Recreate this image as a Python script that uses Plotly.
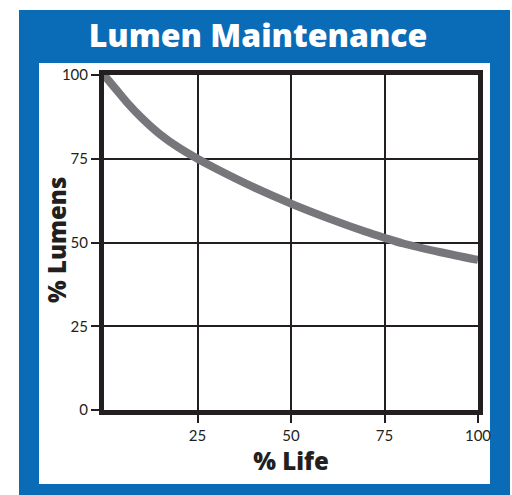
import plotly.graph_objects as go

life_pct = [0, 3, 6, 10, 15, 20, 25, 30, 40, 50, 60, 70, 75, 80, 90, 100]
lumens_pct = [100, 96, 92, 87.3, 82.3, 78.3, 75, 72, 66.5, 61.6, 57.2, 53.2, 51.4, 49.7, 47.1, 44.8]

x_ticks = [25, 50, 75, 100]
y_ticks = [0, 25, 50, 75, 100]

title_text = "Lumen Maintenance"
x_title = "% Life"
y_title = "% Lumens"

W, H = 512, 495
ML, MR, MT, MB = 104, 34, 75, 85
pw, ph = W - ML - MR, H - MT - MB

def px(p):
    return (p - ML) / pw

def py(p):
    return 1 - (p - MT) / ph

dark = "#231f20"
blue = "#0a6cb6"

fig = go.Figure()
fig.add_trace(go.Scatter(
    x=life_pct, y=lumens_pct, mode="lines",
    line=dict(color="#77777b", width=8, shape="spline", smoothing=0.8),
    hoverinfo="x+y", showlegend=False, cliponaxis=True,
))

fig.add_shape(type="rect", xref="paper", yref="paper", layer="below",
              x0=px(19), x1=px(510), y0=py(10), y1=py(497),
              fillcolor=blue, line=dict(width=0))
fig.add_shape(type="rect", xref="paper", yref="paper", layer="below",
              x0=px(39), x1=px(490), y0=py(63), y1=py(484),
              fillcolor="white", line=dict(width=0))

fig.add_annotation(text=y_title, xref="paper", yref="paper",
                   x=px(56), y=py(240), xanchor="center", yanchor="middle",
                   textangle=-90, showarrow=False,
                   font=dict(family="Open Sans", size=24, color=dark, weight=800))

fig.update_layout(
    width=W, height=H,
    margin=dict(l=ML, r=MR, t=MT, b=MB),
    paper_bgcolor="white", plot_bgcolor="rgba(0,0,0,0)",
    title=dict(text=title_text, x=0.504, xref="container", xanchor="center",
               y=1 - 36 / H, yref="container", yanchor="middle",
               font=dict(family="Open Sans", size=32, color="white", weight=800)),
    font=dict(family="Lato", color=dark),
)
axis_common = dict(
    showline=True, linecolor=dark, linewidth=5, mirror=True,
    showgrid=True, gridcolor=dark, gridwidth=1.5,
    ticks="outside", ticklen=8, tickwidth=1.5, tickcolor=dark,
    tickfont=dict(family="Lato", size=15, color=dark),
    zeroline=False, fixedrange=True,
)
fig.update_xaxes(range=[0, 100], tickvals=x_ticks,
                 title=dict(text=x_title, standoff=12,
                            font=dict(family="Open Sans", size=24, color=dark, weight=800)),
                 **axis_common)
fig.update_yaxes(range=[0, 100], tickvals=y_ticks, **axis_common)

fig.write_html("out.html", config={"displayModeBar": False},
               post_script="document.body.style.margin='0';document.body.style.padding='0';")
